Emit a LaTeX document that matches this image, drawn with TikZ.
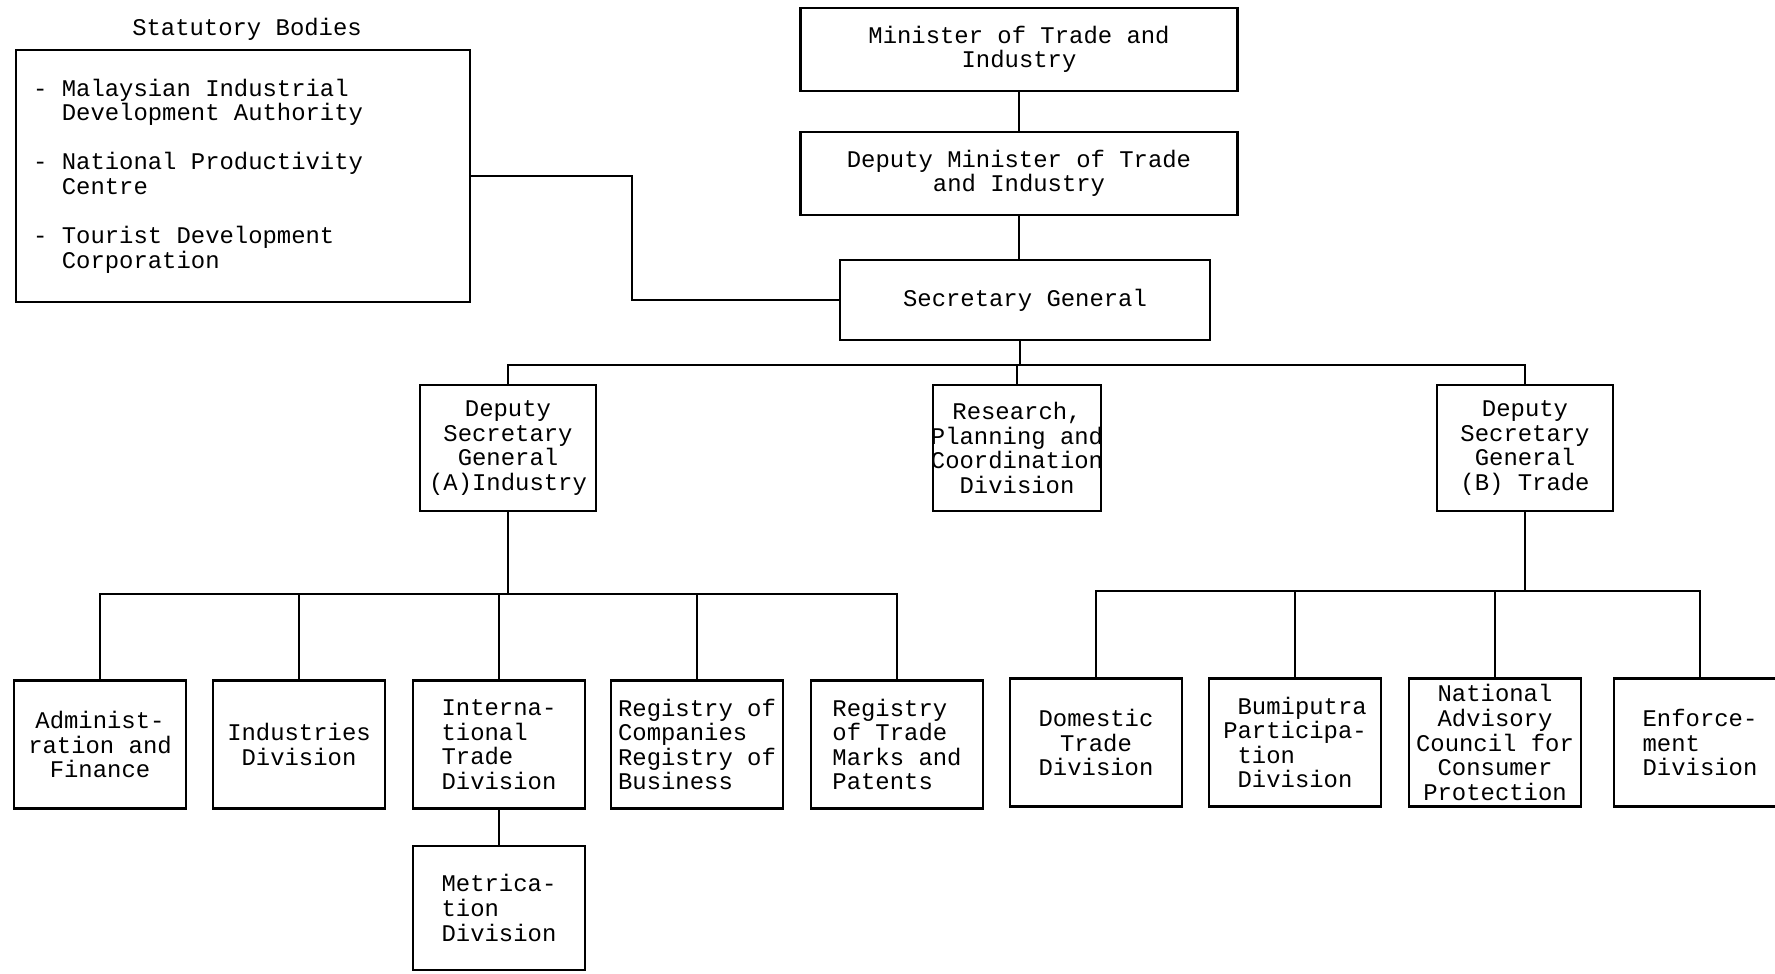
\documentclass[tikz,border=0pt]{standalone}
\usepackage{fontspec}
\setmonofont{Liberation Mono}
\usepackage{tikz}

\newcommand\bodyindent{\hphantom{--}}
\newcommand\onechar{\hphantom{x}}
\def\px{0.015cm}

\begin{document}
\begin{tikzpicture}[
	x=0.015cm, y=-0.015cm,
	font=\ttfamily\fontsize{10.2}{10.5}\selectfont,
	unit/.style={draw, rectangle, line width=1.1pt, inner sep=2pt, align=center},
	office/.style={unit, minimum width=437*\px, minimum height=83*\px},
	deputy/.style={unit, minimum width=176*\px, minimum height=126*\px},
	division/.style={unit, minimum width=172*\px, minimum height=128*\px}
	]
	
	\useasboundingbox (0,0) rectangle (1775,973);
	\clip (0,0) rectangle (1775,973);
	
	%-----------------------
	% Customizable heights
	%-----------------------
	\def\hmin{49.5}    % Minister
	\def\hdep{173.5}   % Deputy Minister
	\def\hsec{300}     % Secretary General
	\def\hbus{365}     % bus below Secretary General
	\def\hdsg{448}     % deputy secretaries and research
	\def\hbusA{594}    % bus below (A) Industry
	\def\hbusB{591}    % bus below (B) Trade
	\def\hrowA{744.5}  % divisions under (A)
	\def\hrowB{742.5}  % divisions under (B)
	\def\hmet{908}     % Metrication
	
	%-----------------------
	% Statutory bodies
	%-----------------------
	\node (stattitle) at (247,29) {Statutory Bodies};
	\node[unit, minimum width=454*\px, minimum height=252*\px] (stat) at (243,176) {};
	\node[anchor=west, align=left, inner sep=0pt] (statlist) at ([xshift=18*\px]stat.west)
		{-\ Malaysian Industrial\\\bodyindent Development Authority\\[\baselineskip]
		 -\ National Productivity\\\bodyindent Centre\\[\baselineskip]
		 -\ Tourist Development\\\bodyindent Corporation};
	
	%-----------------------
	% Top of the ministry
	%-----------------------
	\node[office] (minister) at (1019,\hmin) {Minister of Trade and\\Industry};
	\node[office] (depmin) at (1019,\hdep) {Deputy Minister of Trade\\and Industry};
	\node[unit, minimum width=370*\px, minimum height=80*\px] (secgen) at (1025,\hsec) {Secretary General};
	
	%-----------------------
	% Second level
	%-----------------------
	\node[deputy] (dsgA) at (508,\hdsg) {Deputy\\Secretary\\General\\(A)Industry};
	\node[deputy, minimum width=168*\px, inner xsep=-3*\px] (research) at (1017,\hdsg)
		{Research,\\Planning and\\Coordination\\Division};
	\node[deputy] (dsgB) at (1525,\hdsg) {Deputy\\Secretary\\General\\(B) Trade};
	
	%-----------------------
	% Divisions under (A) Industry
	%-----------------------
	\node[division] (admin) at (100,\hrowA) {Administ-\\ration and\\Finance};
	\node[division] (industries) at (299,\hrowA) {Industries\\Division};
	\node[division, align=left] (intl) at (499,\hrowA) {Interna-\\tional\\Trade\\Division};
	\node[division, align=left] (regcomp) at (697,\hrowA) {Registry of\\Companies\\Registry of\\Business};
	\node[division, align=left] (regtm) at (897,\hrowA) {Registry\\of Trade\\Marks and\\Patents};
	\node[division, align=left, minimum height=124*\px] (metric) at (499,\hmet) {Metrica-\\tion\\Division};
	
	%-----------------------
	% Divisions under (B) Trade
	%-----------------------
	\node[division] (domestic) at (1096,\hrowB) {Domestic\\Trade\\Division};
	\node[division, align=left] (bumi) at (1295,\hrowB)
		{\onechar Bumiputra\\Participa-\\\onechar tion\\\onechar Division};
	\node[division] (natadv) at (1495,\hrowB) {National\\Advisory\\Council for\\Consumer\\Protection};
	\node[division, align=left] (enforce) at (1700,\hrowB) {Enforce-\\ment\\Division};
	
	%-----------------------
	% Connections
	%-----------------------
	\tikzset{connect/.style={line width=1pt}}
	
	\coordinate (elbow) at (632,\hsec);
	\coordinate (busTop) at (1020,\hbus);
	\coordinate (busA) at (508,\hbusA);
	\coordinate (busB) at (1525,\hbusB);
	
	% statutory bodies -> secretary general
	\draw[connect] (stat.east) -| (elbow) -- (secgen.west);
	
	% minister -> deputy -> secretary general
	\draw[connect] (minister) -- (depmin);
	\draw[connect] (depmin.south) -- (depmin.south |- secgen.north);
	
	% secretary general -> second level
	\draw[connect] (secgen.south -| busTop) -- (busTop);
	\draw[connect] (dsgA.north) |- (busTop) -| (dsgB.north);
	\draw[connect] (research.north) -- (research.north |- busTop);
	
	% (A) Industry -> divisions
	\draw[connect] (dsgA.south) -- (busA);
	\draw[connect] (admin.north) |- (busA) -| (regtm.north);
	\foreach \d in {industries, intl, regcomp}
		\draw[connect] (\d.north) -- (\d.north |- busA);
	\draw[connect] (intl) -- (metric);
	
	% (B) Trade -> divisions
	\draw[connect] (dsgB.south) -- (busB);
	\draw[connect] (domestic.north) |- (busB) -| (enforce.north);
	\foreach \d in {bumi, natadv}
		\draw[connect] (\d.north) -- (\d.north |- busB);
	
\end{tikzpicture}
\end{document}
